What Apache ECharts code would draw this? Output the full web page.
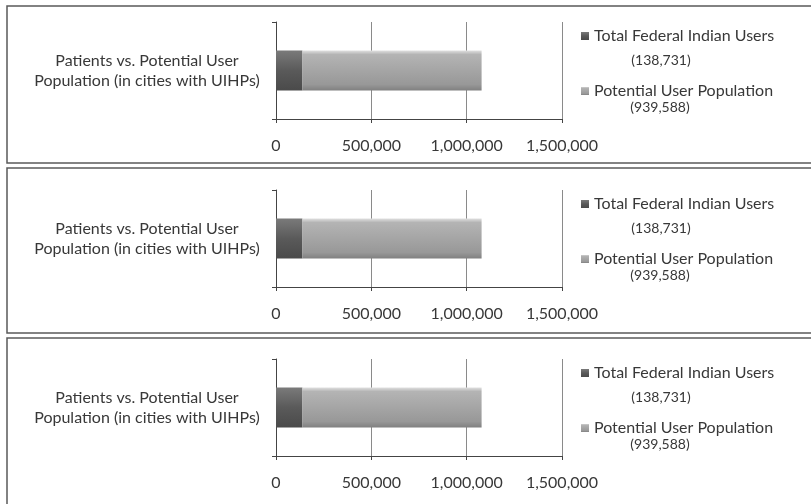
<!DOCTYPE html>
<html>
<head>
<meta charset="utf-8">
<script src="https://cdn.jsdelivr.net/npm/echarts@6/dist/echarts.min.js"></script>
<style>
  html, body { margin: 0; padding: 0; background: #fff; }
  #chart { width: 811px; height: 504px; }
</style>
</head>
<body>
<div id="chart"></div>
<script>
// data (same chart repeated three times)
const categories = ['Patients vs. Potential User\nPopulation (in cities with UIHPs)'];
const seriesNames = ['Total Federal Indian Users', 'Potential User Population'];
const federalUsers = [138731];
const potentialUsers = [939588];
const xMin = 0;
const xMax = 1500000;
const xStep = 500000;

// layout of the three stacked panels
const panelTops = [22, 190, 359];
const borderBoxes = [[7, 6, 830, 157], [7, 168, 830, 165], [7, 338, 830, 190]];
const plotLeft = 276;
const plotWidth = 286;
const plotHeight = 97;

const font = 'Lato, "Open Sans", sans-serif';
const textColor = '#383838';

const darkFill = new echarts.graphic.LinearGradient(0, 0, 0, 1, [
  { offset: 0, color: '#7a7a7a' },
  { offset: 0.5, color: '#5a5a5a' },
  { offset: 1, color: '#4a4a4a' },
]);
const lightFill = new echarts.graphic.LinearGradient(0, 0, 0, 1, [
  { offset: 0, color: '#e0e0e0' },
  { offset: 0.1, color: '#b4b4b4' },
  { offset: 0.85, color: '#989898' },
  { offset: 1, color: '#808080' },
]);

const fmt = v => v.toLocaleString('en-US');

const grid = [], xAxis = [], yAxis = [], series = [], legend = [], graphic = [];

panelTops.forEach((top, i) => {
  grid.push({ left: plotLeft, top: top, width: plotWidth, height: plotHeight });

  xAxis.push({
    gridIndex: i,
    type: 'value',
    min: xMin,
    max: xMax,
    interval: xStep,
    axisLine: { show: true, lineStyle: { color: '#444', width: 1 } },
    axisTick: { show: true, length: 4, lineStyle: { color: '#444' } },
    splitLine: { show: true, lineStyle: { color: '#8a8a8a', width: 1 } },
    axisLabel: {
      margin: 19,
      color: textColor,
      fontFamily: font,
      fontSize: 16,
      formatter: v => fmt(v),
    },
  });

  yAxis.push({
    gridIndex: i,
    type: 'category',
    data: categories,
    axisLine: { show: true, lineStyle: { color: '#444', width: 1 } },
    axisTick: { show: true, length: 4, lineStyle: { color: '#444' } },
    axisLabel: {
      margin: 129,
      align: 'center',
      color: textColor,
      fontFamily: font,
      fontSize: 16,
      lineHeight: 20,
    },
  });

  series.push({
    name: seriesNames[0],
    type: 'bar',
    stack: 'panel' + i,
    xAxisIndex: i,
    yAxisIndex: i,
    barWidth: 40,
    data: federalUsers,
    itemStyle: { color: darkFill },
  });
  series.push({
    name: seriesNames[1],
    type: 'bar',
    stack: 'panel' + i,
    xAxisIndex: i,
    yAxisIndex: i,
    barWidth: 40,
    data: potentialUsers,
    itemStyle: { color: lightFill },
  });

  legend.push({
    orient: 'vertical',
    left: 581,
    top: top + 6,
    padding: 0,
    itemWidth: 8,
    itemHeight: 8,
    itemGap: 39,
    icon: 'rect',
    data: seriesNames,
    textStyle: { color: textColor, fontFamily: font, fontSize: 16, lineHeight: 16 },
  });

  // value lines under each legend entry
  graphic.push({
    type: 'text',
    style: {
      x: 661, y: top + 38,
      text: '(' + fmt(federalUsers[0]) + ')',
      fill: textColor, font: '14px ' + font,
      align: 'center', verticalAlign: 'middle',
    },
  });
  graphic.push({
    type: 'text',
    style: {
      x: 660, y: top + 85,
      text: '(' + fmt(potentialUsers[0]) + ')',
      fill: textColor, font: '14px ' + font,
      align: 'center', verticalAlign: 'middle',
    },
  });
});

borderBoxes.forEach(b => {
  graphic.push({
    type: 'rect',
    shape: { x: b[0], y: b[1], width: b[2], height: b[3] },
    style: { fill: null, stroke: '#5a5a5a', lineWidth: 1.5 },
    silent: true,
  });
});

const chart = echarts.init(document.getElementById('chart'));
chart.setOption({
  animation: false,
  backgroundColor: '#fff',
  grid,
  xAxis,
  yAxis,
  series,
  legend,
  graphic,
});
</script>
</body>
</html>
